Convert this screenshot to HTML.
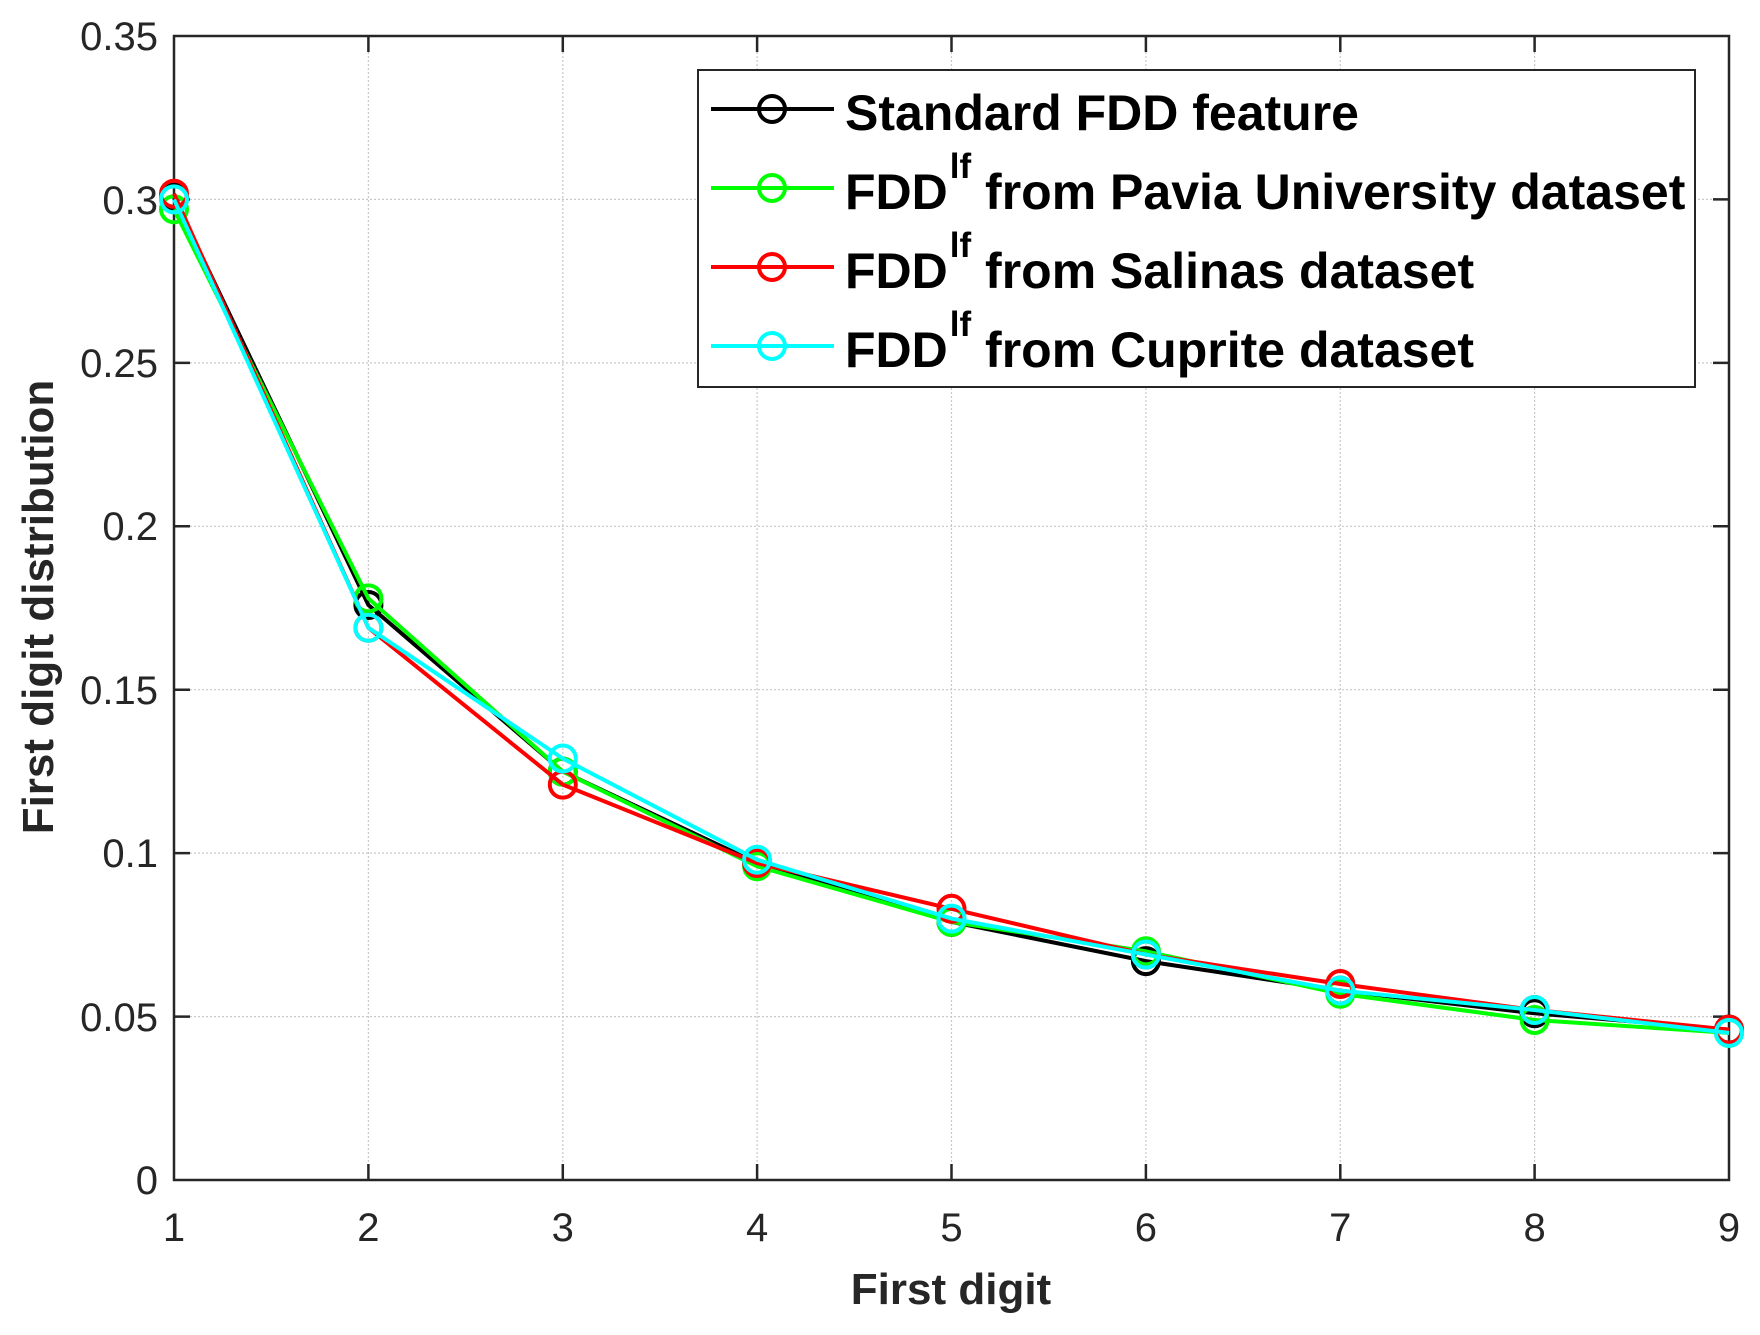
<!DOCTYPE html>
<html><head><meta charset="utf-8"><style>html,body{margin:0;padding:0;background:#fff}svg{display:block}</style></head>
<body>
<svg width="1760" height="1335" viewBox="0 0 1760 1335" xmlns="http://www.w3.org/2000/svg" font-family="Liberation Sans, Arial, sans-serif">
<rect width="1760" height="1335" fill="#fff"/>
<g stroke="#c8c8c8" stroke-width="1.2" stroke-dasharray="2,2">
<line x1="368.4" y1="36" x2="368.4" y2="1180"/><line x1="562.8" y1="36" x2="562.8" y2="1180"/>
<line x1="757.1" y1="36" x2="757.1" y2="1180"/><line x1="951.5" y1="36" x2="951.5" y2="1180"/>
<line x1="1145.9" y1="36" x2="1145.9" y2="1180"/><line x1="1340.3" y1="36" x2="1340.3" y2="1180"/>
<line x1="1534.6" y1="36" x2="1534.6" y2="1180"/>
<line x1="174" y1="199.4" x2="1729" y2="199.4"/><line x1="174" y1="362.9" x2="1729" y2="362.9"/>
<line x1="174" y1="526.3" x2="1729" y2="526.3"/><line x1="174" y1="689.7" x2="1729" y2="689.7"/>
<line x1="174" y1="853.1" x2="1729" y2="853.1"/><line x1="174" y1="1016.6" x2="1729" y2="1016.6"/>
</g>
<g stroke="#262626" stroke-width="2.5">
<rect x="174" y="36" width="1555" height="1144" fill="none"/>
<path d="M368.4 1180v-16M562.8 1180v-16M757.1 1180v-16M951.5 1180v-16M1145.9 1180v-16M1340.3 1180v-16M1534.6 1180v-16
M368.4 36v16M562.8 36v16M757.1 36v16M951.5 36v16M1145.9 36v16M1340.3 36v16M1534.6 36v16
M174 199.4h16M174 362.9h16M174 526.3h16M174 689.7h16M174 853.1h16M174 1016.6h16
M1729 199.4h-16M1729 362.9h-16M1729 526.3h-16M1729 689.7h-16M1729 853.1h-16M1729 1016.6h-16"/>
</g>
<g font-size="40" fill="#262626" text-anchor="end">
<text x="158" y="50">0.35</text><text x="158" y="214">0.3</text><text x="158" y="377">0.25</text>
<text x="158" y="540">0.2</text><text x="158" y="704">0.15</text><text x="158" y="867">0.1</text>
<text x="158" y="1031">0.05</text><text x="158" y="1194">0</text>
</g>
<g font-size="40" fill="#262626" text-anchor="middle">
<text x="174" y="1241">1</text><text x="368.4" y="1241">2</text><text x="562.8" y="1241">3</text>
<text x="757.1" y="1241">4</text><text x="951.5" y="1241">5</text><text x="1145.9" y="1241">6</text>
<text x="1340.3" y="1241">7</text><text x="1534.6" y="1241">8</text><text x="1729" y="1241">9</text>
</g>
<text x="951" y="1304" font-size="44" font-weight="bold" fill="#262626" text-anchor="middle">First digit</text>
<text transform="translate(53,607) rotate(-90)" font-size="44" font-weight="bold" fill="#262626" text-anchor="middle">First digit distribution</text>
<g fill="none" stroke-width="4" stroke-linejoin="round">
<g stroke="#000">
<polyline points="174,197.8 368.4,605 562.8,771.6 757.1,863 951.5,921.9 1145.9,961.1 1340.3,990.6 1534.6,1013.3 1729,1029.6"/>
<circle cx="174" cy="197.8" r="13"/><circle cx="368.4" cy="605" r="13"/><circle cx="562.8" cy="771.6" r="13"/><circle cx="757.1" cy="863" r="13"/><circle cx="951.5" cy="921.9" r="13"/><circle cx="1145.9" cy="961.1" r="13"/><circle cx="1340.3" cy="990.6" r="13"/><circle cx="1534.6" cy="1013.3" r="13"/><circle cx="1729" cy="1029.6" r="13"/>
</g>
<g stroke="#00ff00">
<polyline points="174,209.3 368.4,598.4 562.8,771.6 757.1,866.3 951.5,921.9 1145.9,951.3 1340.3,993.8 1534.6,1020 1729,1032.9"/>
<circle cx="174" cy="209.3" r="13"/><circle cx="368.4" cy="598.4" r="13"/><circle cx="562.8" cy="771.6" r="13"/><circle cx="757.1" cy="866.3" r="13"/><circle cx="951.5" cy="921.9" r="13"/><circle cx="1145.9" cy="951.3" r="13"/><circle cx="1340.3" cy="993.8" r="13"/><circle cx="1534.6" cy="1020" r="13"/><circle cx="1729" cy="1032.9" r="13"/>
</g>
<g stroke="#ff0000">
<polyline points="174,193.7 368.4,627.8 562.8,784.6 757.1,863 951.5,908.8 1145.9,954.5 1340.3,984 1534.6,1010 1729,1029.6"/>
<circle cx="174" cy="193.7" r="13"/><circle cx="368.4" cy="627.8" r="13"/><circle cx="562.8" cy="784.6" r="13"/><circle cx="757.1" cy="863" r="13"/><circle cx="951.5" cy="908.8" r="13"/><circle cx="1145.9" cy="954.5" r="13"/><circle cx="1340.3" cy="984" r="13"/><circle cx="1534.6" cy="1010" r="13"/><circle cx="1729" cy="1029.6" r="13"/>
</g>
<g stroke="#00ffff">
<polyline points="174,199.4 368.4,627.8 562.8,758.5 757.1,859.7 951.5,918.6 1145.9,954.5 1340.3,990.6 1534.6,1010 1729,1032.9"/>
<circle cx="174" cy="199.4" r="13"/><circle cx="368.4" cy="627.8" r="13"/><circle cx="562.8" cy="758.5" r="13"/><circle cx="757.1" cy="859.7" r="13"/><circle cx="951.5" cy="918.6" r="13"/><circle cx="1145.9" cy="954.5" r="13"/><circle cx="1340.3" cy="990.6" r="13"/><circle cx="1534.6" cy="1010" r="13"/><circle cx="1729" cy="1032.9" r="13"/>
</g>
</g>
<rect x="698" y="70" width="997" height="317" fill="#fff" stroke="#262626" stroke-width="2"/>
<g fill="none" stroke-width="4">
<line x1="711" y1="109" x2="834" y2="109" stroke="#000"/><circle cx="772" cy="109" r="13" stroke="#000"/>
<line x1="711" y1="188" x2="834" y2="188" stroke="#00ff00"/><circle cx="772" cy="188" r="13" stroke="#00ff00"/>
<line x1="711" y1="267" x2="834" y2="267" stroke="#ff0000"/><circle cx="772" cy="267" r="13" stroke="#ff0000"/>
<line x1="711" y1="346" x2="834" y2="346" stroke="#00ffff"/><circle cx="772" cy="346" r="13" stroke="#00ffff"/>
</g>
<g font-size="50" font-weight="bold" fill="#000">
<text x="845" y="130">Standard FDD feature</text>
<text x="845" y="209">FDD<tspan font-size="35" dy="-31" dx="2">lf</tspan><tspan dy="31"> from Pavia University dataset</tspan></text>
<text x="845" y="288">FDD<tspan font-size="35" dy="-31" dx="2">lf</tspan><tspan dy="31"> from Salinas dataset</tspan></text>
<text x="845" y="367">FDD<tspan font-size="35" dy="-31" dx="2">lf</tspan><tspan dy="31"> from Cuprite dataset</tspan></text>
</g>
</svg>
</body></html>
